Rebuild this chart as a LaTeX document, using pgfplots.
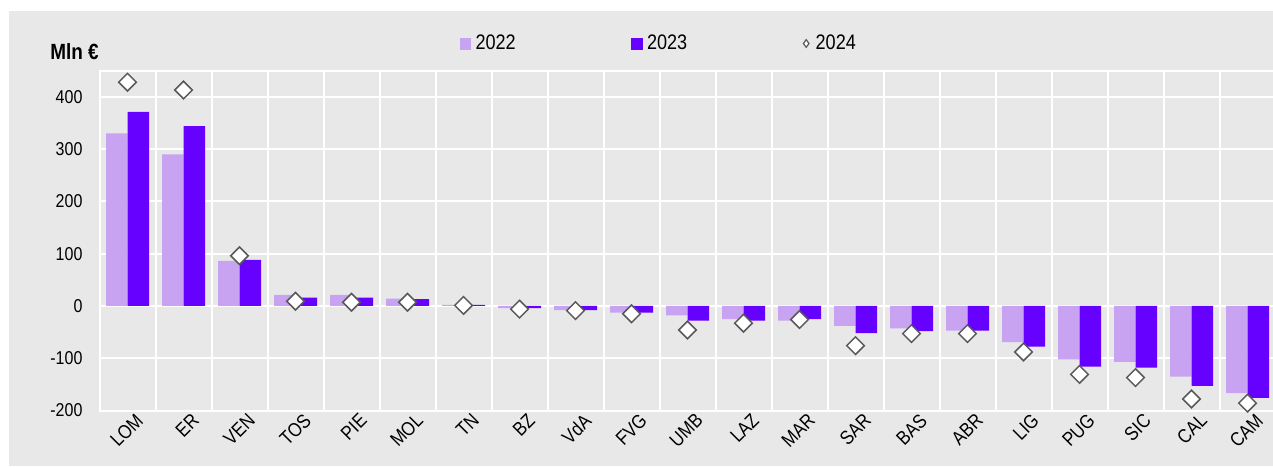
\documentclass[border=0pt]{standalone}
\usepackage{fontspec}
\setmainfont{Liberation Sans}[FakeStretch=0.86]
\usepackage{pgfplots}
\usepackage{pgfplotstable}
\pgfplotsset{compat=1.18}
\definecolor{bg}{HTML}{E8E8E8}
\definecolor{cA}{HTML}{C8A3F1}
\definecolor{cB}{HTML}{6600FF}
\definecolor{dg}{HTML}{595959}

\pgfplotstableread{
x name v22 v23 v24
0  LOM  330  371  428
1  ER   290  344  413
2  VEN   86   88   96
3  TOS   21   16    9
4  PIE   21   16    7
5  MOL   14   13    7
6  TN     2    2    1
7  BZ    -4   -4   -6
8  VdA   -8   -8   -9
9  FVG  -13  -13  -15
10 UMB  -18  -28  -46
11 LAZ  -25  -28  -33
12 MAR  -28  -25  -26
13 SAR  -38  -52  -76
14 BAS  -43  -48  -53
15 ABR  -47  -47  -53
16 LIG  -69  -78  -88
17 PUG -102 -116 -131
18 SIC -107 -118 -137
19 CAL -135 -153 -178
20 CAM -167 -176 -186
}\data

\begin{document}
\begin{tikzpicture}
\useasboundingbox (0,0) rectangle (636.5pt,233pt);
\fill[white] (0,0) rectangle (636.5pt,233pt);
\fill[bg] (4.5pt,0) rectangle (636.5pt,227.5pt);
\node[anchor=base west, inner sep=0pt, font=\fontsize{11}{13}\selectfont\bfseries] at (25pt,203pt) {Mln €};
\begin{axis}[
  at={(49.75pt,27.75pt)}, anchor=south west,
  scale only axis, width=588pt, height=169.9pt,
  xmin=-0.5, xmax=20.5, ymin=-200, ymax=450,
  axis background/.style={fill=bg},
  axis line style={white, line width=1pt},
  ytick={-200,-100,...,400},
  xtick={0,...,20},
  xticklabels={LOM,ER,VEN,TOS,PIE,MOL,TN,BZ,VdA,FVG,UMB,LAZ,MAR,SAR,BAS,ABR,LIG,PUG,SIC,CAL,CAM},
  minor xtick={-0.5,0.5,...,20.5},
  xminorgrids, ymajorgrids,
  grid style={white, line width=1pt},
  minor grid style={white, line width=1pt},
  major tick length=0pt, minor tick length=0pt,
  tick style={draw=none},
  ticklabel style={font=\fontsize{9.3}{11}\selectfont},
  xticklabel style={rotate=45, anchor=north east, inner sep=0pt, yshift=-3pt, xshift=2pt, font=\fontsize{9.8}{11}\selectfont},
  yticklabel style={xshift=-5pt},
  /pgf/number format/assume math mode=true,
  legend columns=3,
  legend style={at={(0.3059,1.080)}, anchor=west, draw=none, fill=none,
    inner sep=0pt, font=\fontsize{10.5}{12}\selectfont,
    column sep=2.15pt,
    /tikz/every even column/.append style={column sep=57.7pt},
    nodes={inner sep=0pt}},
]
\addplot[ybar, bar width=10.75pt, bar shift=-5.375pt, fill=cA, draw=none, forget plot] table[x=x,y=v22]{\data};
\addplot[ybar, bar width=10.75pt, bar shift=5.375pt, fill=cB, draw=none, forget plot] table[x=x,y=v23]{\data};
\addplot[only marks, mark=square*, mark size=3.1pt, mark options={rotate=45, fill=white, draw=dg, line width=0.75pt}, forget plot] table[x=x,y=v24]{\data};
\addlegendimage{legend image code/.code={\fill[cA] (0pt,-2.7pt) rectangle (5.4pt,2.7pt);}}
\addlegendentry{2022}
\addlegendimage{legend image code/.code={\fill[cB] (0pt,-2.7pt) rectangle (5.4pt,2.7pt);}}
\addlegendentry{2023}
\addlegendimage{legend image code/.code={\path (0pt,0pt) (4pt,0pt); \draw[dg, fill=white, line width=0.6pt] (0.2pt,0pt) -- (1.6pt,1.9pt) -- (3pt,0pt) -- (1.6pt,-1.9pt) -- cycle;}}
\addlegendentry{2024}
\end{axis}
\end{tikzpicture}
\end{document}
